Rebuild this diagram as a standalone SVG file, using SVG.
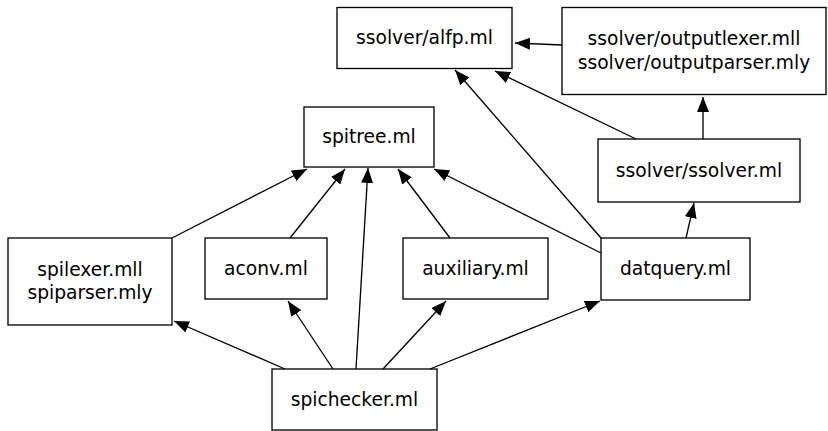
<svg xmlns="http://www.w3.org/2000/svg" width="828" height="431" viewBox="0 0 828 431">
<style>
rect{fill:#fff;stroke:#000;stroke-width:1.33}
text{font-family:"DejaVu Sans",sans-serif;font-size:18.67px;text-anchor:middle;fill:#000}
.e line{stroke:#000;stroke-width:1.33;marker-end:url(#a)}
</style>
<defs>
<marker id="a" markerUnits="userSpaceOnUse" viewBox="0 0 15 12" markerWidth="15" markerHeight="12" refX="15" refY="6" orient="auto">
<path d="M0,0L15,6L0,12z" fill="#000"/>
</marker>
</defs>
<rect width="828" height="431" fill="#fff" style="stroke:none"/>
<g id="alfp"><rect x="337" y="7.5" width="175" height="61"/><text x="424.5" y="44">ssolver/alfp.ml</text></g>
<g id="outputlexer"><rect x="562" y="7.5" width="264" height="87"/><text x="694" y="45">ssolver/outputlexer.mll</text><text x="694" y="69">ssolver/outputparser.mly</text></g>
<g id="spitree"><rect x="304" y="107" width="130" height="60"/><text x="369" y="143">spitree.ml</text></g>
<g id="ssolver"><rect x="598" y="139" width="202" height="63"/><text x="699" y="177">ssolver/ssolver.ml</text></g>
<g id="spilexer"><rect x="8" y="238" width="164" height="87"/><text x="90" y="276">spilexer.mll</text><text x="90" y="299">spiparser.mly</text></g>
<g id="aconv"><rect x="205" y="238" width="122" height="61"/><text x="266" y="275">aconv.ml</text></g>
<g id="auxiliary"><rect x="403" y="238" width="145" height="61"/><text x="475.5" y="275">auxiliary.ml</text></g>
<g id="datquery"><rect x="601" y="238" width="149" height="62"/><text x="675.5" y="275">datquery.ml</text></g>
<g id="spichecker"><rect x="272" y="369" width="165" height="61"/><text x="354.5" y="406">spichecker.ml</text></g>
<g id="edges" class="e">
<line x1="562" y1="45" x2="515" y2="43"/>
<line x1="636" y1="139" x2="495" y2="71"/>
<line x1="601" y1="238" x2="455" y2="70"/>
<line x1="703" y1="139" x2="703" y2="97"/>
<line x1="686" y1="238" x2="694" y2="203"/>
<line x1="172" y1="238" x2="307" y2="169"/>
<line x1="290" y1="238" x2="345" y2="169"/>
<line x1="356" y1="369" x2="368" y2="168"/>
<line x1="450" y1="238" x2="398" y2="169"/>
<line x1="601" y1="253" x2="434" y2="169"/>
<line x1="285" y1="369" x2="174" y2="321"/>
<line x1="333" y1="369" x2="288" y2="301"/>
<line x1="383" y1="369" x2="446" y2="301"/>
<line x1="430" y1="369" x2="600" y2="301"/>
</g>
</svg>
